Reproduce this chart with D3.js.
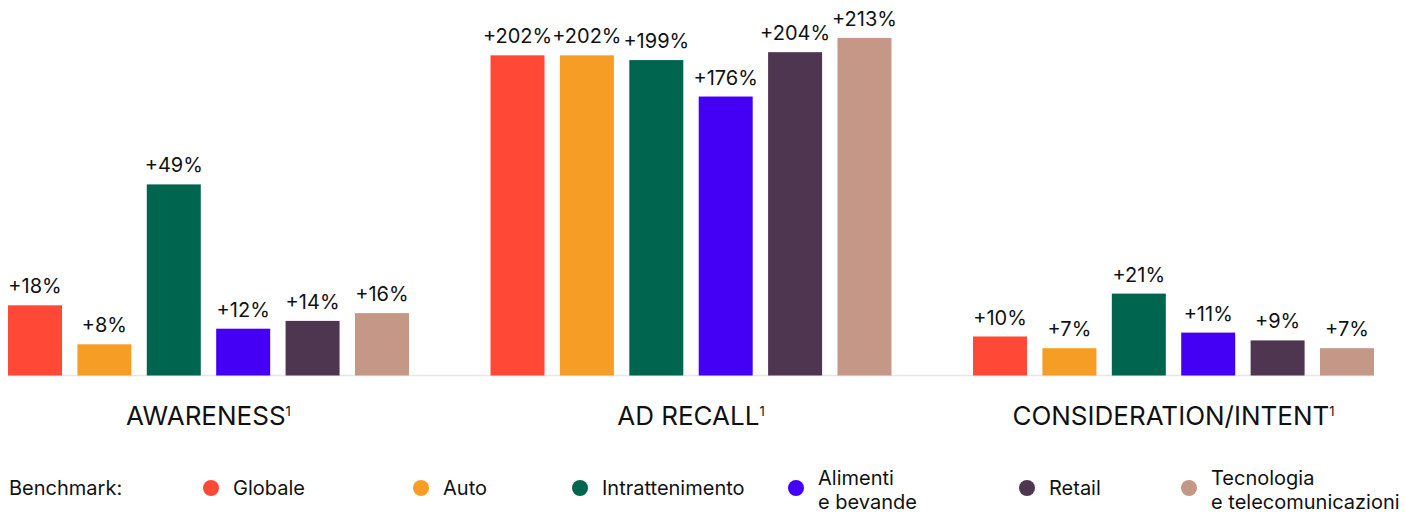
<!DOCTYPE html>
<html>
<head>
<meta charset="utf-8">
<script src="https://cdn.jsdelivr.net/npm/d3@7"></script>
<style>
  body { margin: 0; background: #fff; }
  svg { display: block; font-family: Inter, "Noto Sans", sans-serif; }
</style>
</head>
<body>
<div class="chart"></div>
<script>
// Dati
var metrics = ["AWARENESS", "AD RECALL", "CONSIDERATION/INTENT"];
var benchmarks = ["Globale", "Auto", "Intrattenimento", "Alimenti\ne bevande", "Retail", "Tecnologia\ne telecomunicazioni"];
var awareness = [18, 8, 49, 12, 14, 16];
var adRecall = [202, 202, 199, 176, 204, 213];
var consideration = [10, 7, 21, 11, 9, 7];
var colors = ["#ff4836", "#f59d25", "#00654f", "#4400f5", "#4f3650", "#c49787"];

var w = 1406, h = 518;
var baseY = 375.5;

var svg = d3.select(".chart")
    .append("svg")
    .attr("width", w)
    .attr("height", h);

var seriesByMetric = [awareness, adRecall, consideration];

// scala dei gruppi e scala interna delle barre
var x0 = d3.scaleBand()
    .domain(metrics)
    .range([8, 1374])
    .paddingInner(0.169);

var x1 = d3.scaleBand()
    .domain(d3.range(benchmarks.length))
    .range([0, x0.bandwidth()])
    .paddingInner(0.222);

// AD RECALL ha una scala sua, gli altri due condividono la stessa
var yLow = d3.scaleLinear().domain([0, 50]).range([0, 195]);
var yHigh = d3.scaleLinear().domain([0, 220]).range([0, 348.7]);
var yScales = [yLow, yHigh, yLow];

// linea di base
svg.append("line")
    .attr("x1", x0.range()[0])
    .attr("x2", x0.range()[1])
    .attr("y1", baseY)
    .attr("y2", baseY)
    .attr("stroke", "#e6e6e6")
    .attr("stroke-width", 1.5);

var groups = svg.selectAll(".group")
    .data(metrics)
  .enter()
    .append("g")
    .attr("class", "group")
    .attr("transform", function(d) { return "translate(" + x0(d) + ",0)"; });

groups.each(function(m, gi) {
    var g = d3.select(this);
    var y = yScales[gi];
    var vals = seriesByMetric[gi];

    g.selectAll(".bar")
        .data(vals)
      .enter()
        .append("rect")
        .attr("class", "bar")
        .attr("x", function(d, i) { return x1(i); })
        .attr("y", function(d) { return baseY - y(d); })
        .attr("width", x1.bandwidth())
        .attr("height", function(d) { return y(d); })
        .attr("fill", function(d, i) { return colors[i]; });

    g.selectAll(".val")
        .data(vals)
      .enter()
        .append("text")
        .attr("class", "val")
        .attr("x", function(d, i) { return x1(i) + x1.bandwidth() / 2; })
        .attr("y", function(d) { return baseY - y(d) - 12; })
        .attr("text-anchor", "middle")
        .attr("font-size", 20)
        .attr("fill", "#111")
        .text(function(d) { return "+" + d + "%"; });

    var t = g.append("text")
        .attr("x", x0.bandwidth() / 2)
        .attr("y", 425)
        .attr("text-anchor", "middle")
        .attr("font-size", 26)
        .attr("fill", "#111");
    t.append("tspan").text(m);
    t.append("tspan")
        .attr("font-size", 13)
        .attr("dy", -9)
        .text("1");
});

// legenda
var legendX = [211, 421, 580, 796, 1027, 1189];
var legendY = 488;

svg.append("text")
    .attr("x", 9)
    .attr("y", legendY + 7)
    .attr("font-size", 20)
    .attr("fill", "#111")
    .text("Benchmark:");

var items = svg.selectAll(".legend")
    .data(benchmarks)
  .enter()
    .append("g")
    .attr("class", "legend")
    .attr("transform", function(d, i) { return "translate(" + legendX[i] + "," + legendY + ")"; });

items.append("circle")
    .attr("r", 8)
    .attr("fill", function(d, i) { return colors[i]; });

items.each(function(d) {
    var lines = d.split("\n");
    var t = d3.select(this).append("text")
        .attr("x", 22)
        .attr("font-size", 20)
        .attr("fill", "#111");
    var startY = lines.length === 1 ? 7 : -3;
    lines.forEach(function(l, k) {
        t.append("tspan")
            .attr("x", 22)
            .attr("y", startY + k * 24)
            .text(l);
    });
});
</script>
</body>
</html>
